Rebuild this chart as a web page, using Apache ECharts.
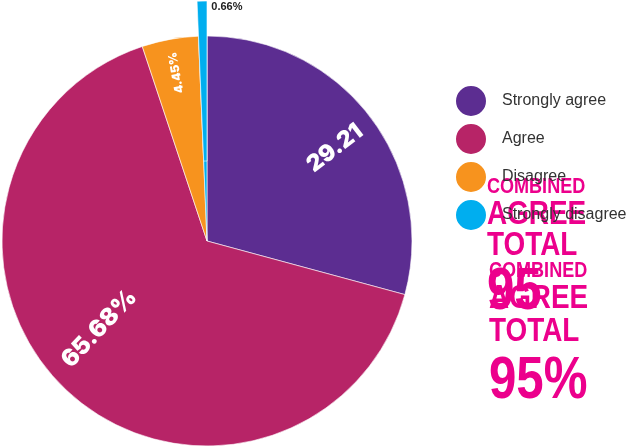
<!DOCTYPE html>
<html>
<head>
<meta charset="utf-8">
<script src="https://cdn.jsdelivr.net/npm/echarts@6/dist/echarts.min.js"></script>
<style>
html,body{margin:0;padding:0;background:#fff;}
#c{width:630px;height:446px;}
</style>
</head>
<body>
<div id="c"></div>
<script>
var categories = ['Strongly agree', 'Agree', 'Disagree', 'Strongly disagree'];
var values = [29.21, 65.68, 4.45, 0.66];
var labelTexts = ['29.21', '65.68%', '4.45%', '0.66%'];
var colors = ['#5c2d91', '#b72467', '#f7931e', '#00aeef'];
var calloutLines = ['COMBINED', 'AGREE', 'TOTAL', '95'];
var calloutLines2 = ['COMBINED', 'AGREE', 'TOTAL', '95%'];

// layout / style constants
var CX = 207, CY = 241;
var labelRadius = [158, 139, 171];
var labelAngleShift = [-1.5, -7.5, 0];
var labelSizes = [23, 24, 12];
var labelFont = 'Inter, Lato, "Open Sans", sans-serif';

var total = values.reduce(function (a, b) { return a + b; }, 0);
function midAngleDeg(i) {
  var cum = 0;
  for (var k = 0; k < i; k++) cum += values[k];
  return 90 - (cum + values[i] / 2) / total * 360;
}
function radialRotate(i) {
  var mid = midAngleDeg(i);
  while (mid > 180) mid -= 360;
  while (mid <= -180) mid += 360;
  if (mid < -90) mid += 180;
  return mid;
}

var baseData = categories.map(function (n, i) {
  return { name: n, value: values[i], itemStyle: { color: colors[i] } };
});
var overlayData = categories.map(function (n, i) {
  if (i === categories.length - 1) {
    return {
      name: n, value: values[i],
      itemStyle: { color: colors[i], borderColor: '#fff', borderWidth: 0.6 },
      label: {
        show: true, position: 'outside', formatter: labelTexts[i],
        color: '#222', fontSize: 11, fontWeight: 'bold',
        fontFamily: '"Liberation Sans", Arial, sans-serif'
      },
      labelLine: { show: false }
    };
  }
  return {
    name: n, value: values[i],
    itemStyle: { color: 'rgba(0,0,0,0)', borderWidth: 0 },
    label: {
      show: true, position: 'inside', formatter: labelTexts[i],
      rotate: radialRotate(i), color: '#fff',
      fontSize: labelSizes[i], fontWeight: 900, fontFamily: labelFont
    }
  };
});

var calloutFont = '"Liberation Sans", Arial, sans-serif';
var calloutSizes = [22, 34, 34, 60];
function calloutGroup(lines, x, ys) {
  return {
    type: 'group', x: x, y: 0, scaleX: 0.82, z: 5,
    children: lines.map(function (t, i) {
      return {
        type: 'text', x: 0, y: ys[i], z: 5,
        style: {
          text: t, fill: '#ec008c',
          font: 'bold ' + calloutSizes[i] + 'px ' + calloutFont,
          textAlign: 'left', textVerticalAlign: 'middle'
        }
      };
    })
  };
}

var chart = echarts.init(document.getElementById('c'), null, { renderer: 'canvas' });
chart.setOption({
  animation: false,
  backgroundColor: '#fff',
  graphic: [
    calloutGroup(calloutLines, 487, [187, 215, 246, 292]),
    calloutGroup(calloutLines2, 489, [271, 299, 332, 381])
  ],
  legend: {
    orient: 'vertical', left: 454, top: 84, z: 10, padding: 0,
    icon: 'circle', itemWidth: 32, itemHeight: 32, itemGap: 4,
    data: categories,
    textStyle: { fontSize: 16, color: '#333', fontFamily: '"Liberation Sans", Arial, sans-serif', padding: [0, 0, 0, 10] }
  },
  series: [
    {
      type: 'pie', center: [CX, CY], radius: 205, startAngle: 90, clockwise: true,
      silent: true, avoidLabelOverlap: false,
      itemStyle: { borderColor: '#fff', borderWidth: 0.6 },
      label: { show: false }, labelLine: { show: false },
      data: baseData
    },
    {
      type: 'pie', center: [CX, CY], radius: [80, 240], startAngle: 90, clockwise: true,
      silent: true, avoidLabelOverlap: false,
      labelLine: { show: false },
      labelLayout: function (p) {
        var i = p.dataIndex;
        if (i === categories.length - 1) {
          return { x: p.rect.x + p.rect.width + 4, y: p.rect.y + 6, align: 'left', verticalAlign: 'middle' };
        }
        var a = (midAngleDeg(i) + labelAngleShift[i]) * Math.PI / 180;
        return {
          x: CX + labelRadius[i] * Math.cos(a),
          y: CY - labelRadius[i] * Math.sin(a),
          align: 'center', verticalAlign: 'middle'
        };
      },
      data: overlayData
    }
  ]
});
</script>
</body>
</html>
